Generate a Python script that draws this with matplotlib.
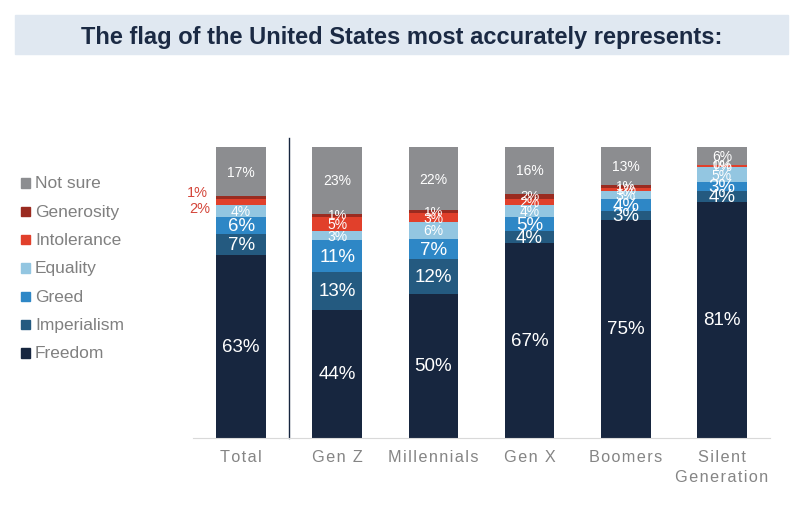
import matplotlib.pyplot as plt
from matplotlib.patches import Rectangle
import numpy as np

# data (percent)
categories = ["Total", "Gen Z", "Millennials", "Gen X", "Boomers", "Silent\nGeneration"]
series = ["Freedom", "Imperialism", "Greed", "Equality", "Intolerance", "Generosity", "Not sure"]
freedom = [63, 44, 50, 67, 75, 81]
imperialism = [7, 13, 12, 4, 3, 4]
greed = [6, 11, 7, 5, 4, 3]
equality = [4, 3, 6, 4, 3, 5]
intolerance = [2, 5, 3, 2, 1, 1]
generosity = [1, 1, 1, 2, 1, 0]
not_sure = [17, 23, 22, 16, 13, 6]

colors = ["#17263f", "#245a80", "#2e87c6", "#93c6e1", "#e1402b", "#9a2b20", "#8c8d90"]
label_sizes = [13.5, 13.5, 13.5, 10, 10, 9.5, 10]

plt.rcParams["font.family"] = ["Liberation Sans", "DejaVu Sans"]

values = np.array([freedom, imperialism, greed, equality, intolerance, generosity, not_sure], dtype=float)
shares = values / values.sum(axis=0) * 100  # 100% stacked

fig = plt.figure(figsize=(8.03, 5.06), dpi=100)

# title band
fig.patches.append(Rectangle((15 / 803, 1 - 55 / 506), 773 / 803, 39 / 506,
                             transform=fig.transFigure, color="#e0e8f1", zorder=0))
fig.text(0.5, 1 - 44.3 / 506, "The flag of the United States most accurately represents:",
         ha="center", va="baseline", fontsize=17, fontweight="bold", color="#1b2a44")

ax = fig.add_axes([193 / 803, (506 - 438.5) / 506, 577 / 803, 290.4 / 506])
x = np.arange(len(categories))
bottom = np.zeros(len(categories))
for i, name in enumerate(series):
    ax.bar(x, shares[i], 0.515, bottom=bottom, color=colors[i], label=name)
    for j in range(len(categories)):
        yc = bottom[j] + shares[i, j] / 2
        txt = f"{int(values[i, j])}%"
        if j == 0 and name in ("Intolerance", "Generosity"):
            dy = 2.0 if name == "Generosity" else -1.9
            xr = -0.35 if name == "Generosity" else -0.325
            ax.text(xr, yc + dy, txt, ha="right", va="center",
                    fontsize=10.5, color="#d4463a")
        else:
            ax.text(x[j], yc, txt, ha="center", va="center",
                    fontsize=label_sizes[i], color="white")
    bottom += shares[i]

ax.axvline(0.5, ymin=0, ymax=103 / 100, color="#17263f", lw=1, clip_on=False)
ax.set_xlim(-0.5, 5.5)
ax.set_ylim(0, 100)
ax.set_yticks([])
ax.set_xticks(x)
# letter-spaced category labels
spaced = ["\n".join("\u200a".join(line) for line in c.split("\n")) for c in categories]
ax.set_xticklabels(spaced, fontsize=11.7, color="#858585", linespacing=1.4)
ax.tick_params(axis="x", length=0, pad=8.5)
for s in ["top", "right", "left"]:
    ax.spines[s].set_visible(False)
ax.spines["bottom"].set_color("#d9d9d9")

# legend, top to bottom
for k, name in enumerate(series[::-1]):
    yy = 1 - (184 + k * 28.3) / 506
    fig.patches.append(Rectangle((20.5 / 803, yy - 4.8 / 506), 9.5 / 803, 9.5 / 506,
                                 transform=fig.transFigure, color=colors[::-1][k]))
    fig.text(35 / 803, yy, name, ha="left", va="center", fontsize=12.5, color="#808080")

fig.savefig("out.png", dpi=100)
